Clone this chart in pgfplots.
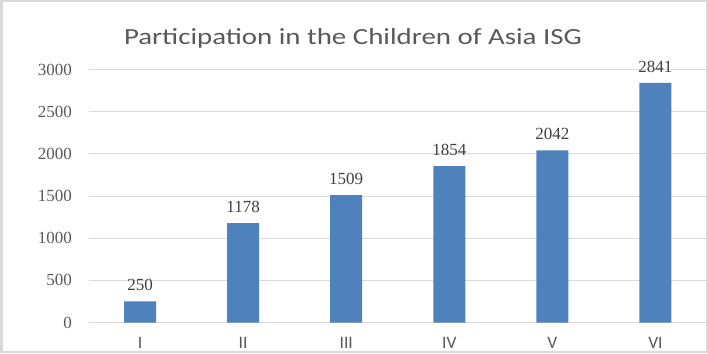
\documentclass[border=0pt]{standalone}
\usepackage{fontspec}
\setmainfont{Carlito}
\newfontfamily\numfont{Liberation Serif}
\newfontfamily\titlefont[FakeStretch=1.25]{Carlito}
\usepackage{pgfplots}
\pgfplotsset{compat=1.18}
\definecolor{barblue}{RGB}{79,129,189}
\definecolor{gridgray}{RGB}{217,217,217}
\definecolor{txtgray}{RGB}{89,89,89}
\definecolor{lblgray}{RGB}{64,64,64}
\begin{document}
\begin{tikzpicture}[x=1pt,y=1pt]
\useasboundingbox (0,0) rectangle (708,353);
\begin{axis}[
  at={(88.5pt,30.5pt)}, anchor=south west,
  scale only axis, width=618.5pt, height=253pt,
  ymin=0, ymax=3000, ytick={0,500,...,3000},
  xmin=-0.5, xmax=5.5, xtick=data,
  xticklabels={I,II,III,IV,V,VI},
  axis x line=bottom, axis y line=left,
  x axis line style={draw=gridgray, line width=1.2pt, -},
  y axis line style={draw=none},
  ymajorgrids, grid style={draw=gridgray, line width=1pt},
  major tick length=0pt,
  /pgf/number format/assume math mode=true,
  /pgf/number format/1000 sep={},
  yticklabel style={font=\numfont\fontsize{17}{19}\selectfont, text=txtgray, anchor=east, xshift=-13pt},
  xticklabel style={font=\fontsize{17.5}{20}\selectfont, text=txtgray, anchor=north, yshift=-11pt},
]
\addplot[ybar, bar width=32pt, fill=barblue, draw=none,
  nodes near coords,
  every node near coord/.append style={font=\numfont\fontsize{17}{19}\selectfont, text=lblgray, anchor=south, yshift=7pt},
] coordinates {(0,250) (1,1178) (2,1509) (3,1854) (4,2042) (5,2841)};
\end{axis}
\node[font=\titlefont\fontsize{23.1}{26}\selectfont, text=txtgray, anchor=base] at (353,308.7) {Participation in the Children of Asia ISG};
\draw[gridgray, line width=2.5pt] (1.25,1.25) rectangle (706.75,351.75);
\end{tikzpicture}
\end{document}
